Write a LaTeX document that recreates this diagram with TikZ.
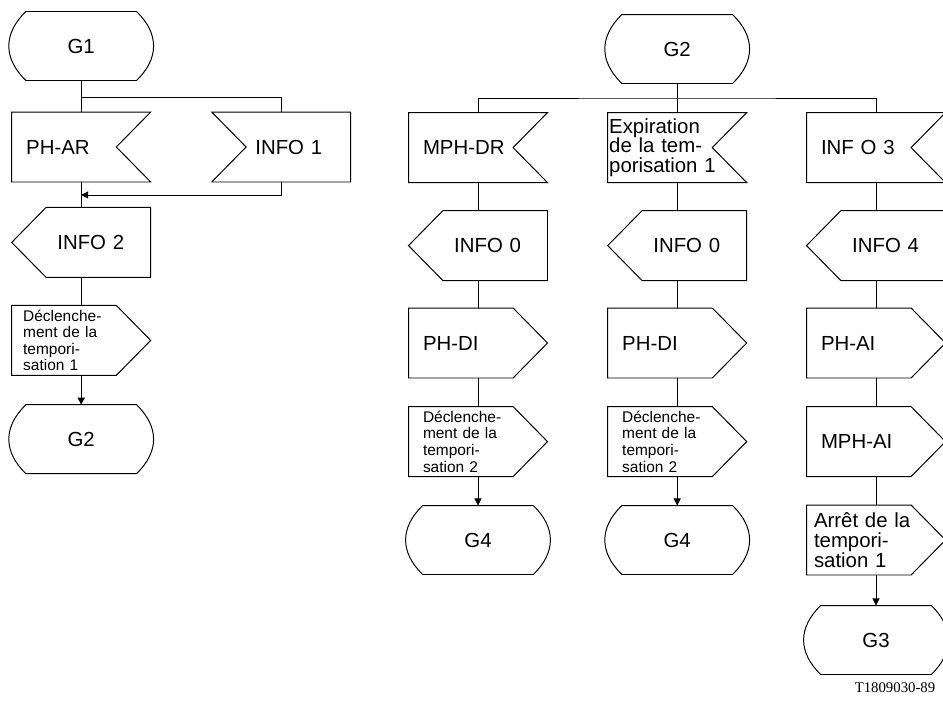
\documentclass[tikz,border=0pt]{standalone}
\usepackage{fontspec}
\setmainfont{Liberation Sans}
\newfontfamily\refserif{Liberation Serif}
\usetikzlibrary{arrows.meta}

\begin{document}
\begin{tikzpicture}[
        line width=0.7pt,
        sdl/.style={
            rectangle,
            inner sep=0pt,
            minimum width=3.45cm,
            minimum height=1.725cm,
            font=\fontsize{14.5}{15}\selectfont
        },
        small/.style={font=\fontsize{11}{11.8}\selectfont},
        tight/.style={font=\fontsize{14.5}{14}\selectfont},
        state/.style={
            sdl,
            minimum width=3.6cm,
            minimum height=1.7cm,
            append after command={\pgfextra{\let\sdlnode\tikzlastnode
                \draw ([xshift=0.43cm]\sdlnode.north west) -- ([xshift=-0.43cm]\sdlnode.north east)
                    .. controls ([xshift=0.14cm,yshift=-0.55cm]\sdlnode.north east)
                    and ([xshift=0.14cm,yshift=0.55cm]\sdlnode.south east)
                    .. ([xshift=-0.43cm]\sdlnode.south east) -- ([xshift=0.43cm]\sdlnode.south west)
                    .. controls ([xshift=-0.14cm,yshift=0.55cm]\sdlnode.south west)
                    and ([xshift=-0.14cm,yshift=-0.55cm]\sdlnode.north west)
                    .. ([xshift=0.43cm]\sdlnode.north west) -- cycle;}}
        },
        inbox/.style={
            sdl,
            text width=2.75cm,
            align=left,
            append after command={\pgfextra{\let\sdlnode\tikzlastnode
                \draw (\sdlnode.north west) -- (\sdlnode.north east)
                    -- ([xshift=-0.86cm]\sdlnode.east) -- (\sdlnode.south east)
                    -- (\sdlnode.south west) -- cycle;}}
        },
        inboxw/.style={
            sdl,
            text width=2.05cm,
            align=right,
            append after command={\pgfextra{\let\sdlnode\tikzlastnode
                \draw (\sdlnode.north west) -- (\sdlnode.north east)
                    -- (\sdlnode.south east) -- (\sdlnode.south west)
                    -- ([xshift=0.86cm]\sdlnode.west) -- cycle;}}
        },
        outw/.style={
            sdl,
            text width=2.15cm,
            align=right,
            append after command={\pgfextra{\let\sdlnode\tikzlastnode
                \draw ([xshift=0.86cm]\sdlnode.north west) -- (\sdlnode.north east)
                    -- (\sdlnode.south east) -- ([xshift=0.86cm]\sdlnode.south west)
                    -- (\sdlnode.west) -- cycle;}}
        },
        oute/.style={
            sdl,
            text width=2.75cm,
            align=left,
            append after command={\pgfextra{\let\sdlnode\tikzlastnode
                \draw (\sdlnode.north west) -- ([xshift=-0.86cm]\sdlnode.north east)
                    -- (\sdlnode.east) -- ([xshift=-0.86cm]\sdlnode.south east)
                    -- (\sdlnode.south west) -- cycle;}}
        },
        arr/.style={-{Triangle[length=5pt,width=5pt]}}
    ]
        \useasboundingbox (0,0) rectangle (23.575,-17.55);

        % G1 branch
        \node[state] (g1) at (2.03,-1.15) {G1};
        \node[inbox] (phar) at (2.03,-3.675) {PH-AR};
        \node[inboxw] (info1) at (7.03,-3.675) {INFO 1};
        \node[outw] (info2) at (2.03,-6.06) {INFO 2};
        \node[oute, small, text width=2.9cm] (decl1) at (2.03,-8.51) {Déclenche-\\ment de la\\tempori-\\sation 1};
        \node[state] (g2a) at (2.03,-10.98) {G2};
        \coordinate (fork1) at (2.03,-2.425);
        \coordinate (back1) at (2.03,-4.875);

        \draw (g1.south) -- (phar.north);
        \draw (fork1) -| (info1.north);
        \draw[arr] (info1.south) |- (back1);
        \draw (phar.south) -- (info2.north);
        \draw (info2.south) -- (decl1.north);
        \draw[arr] (decl1.south) -- (g2a.north);

        % G2 branch
        \node[state] (g2b) at (16.93,-1.225) {G2};
        \coordinate (fork2) at (16.93,-2.45);

        \node[inbox] (mphdr) at (11.95,-3.69) {MPH-DR};
        \node[outw] (info0a) at (11.95,-6.14) {INFO 0};
        \node[oute] (phdia) at (11.95,-8.575) {PH-DI};
        \node[oute, small] (decl2a) at (11.95,-11.04) {Déclenche-\\ment de la\\tempori-\\sation 2};
        \node[state] (g4a) at (11.95,-13.5) {G4};

        \node[inbox, tight, text width=3.4cm] (expir) at (16.93,-3.69) {Expiration\\de la tem-\\porisation 1};
        \node[outw] (info0b) at (16.93,-6.14) {INFO 0};
        \node[oute] (phdib) at (16.93,-8.575) {PH-DI};
        \node[oute, small] (decl2b) at (16.93,-11.04) {Déclenche-\\ment de la\\tempori-\\sation 2};
        \node[state] (g4b) at (16.93,-13.5) {G4};

        \node[inbox] (info3) at (21.9,-3.69) {INF O 3};
        \node[outw] (info4) at (21.9,-6.14) {INFO 4};
        \node[oute] (phai) at (21.9,-8.575) {PH-AI};
        \node[oute] (mphai) at (21.9,-11.04) {MPH-AI};
        \node[oute, tight, text width=3.1cm] (arret) at (21.9,-13.5) {Arrêt de la\\tempori-\\sation 1};
        \node[state] (g3) at (21.9,-16.0) {G3};

        \draw (g2b.south) -- (expir.north);
        \draw (mphdr.north) |- (fork2) -| (info3.north);

        \draw (mphdr.south) -- (info0a.north);
        \draw (info0a.south) -- (phdia.north);
        \draw (phdia.south) -- (decl2a.north);
        \draw[arr] (decl2a.south) -- (g4a.north);

        \draw (expir.south) -- (info0b.north);
        \draw (info0b.south) -- (phdib.north);
        \draw (phdib.south) -- (decl2b.north);
        \draw[arr] (decl2b.south) -- (g4b.north);

        \draw (info3.south) -- (info4.north);
        \draw (info4.south) -- (phai.north);
        \draw (phai.south) -- (mphai.north);
        \draw (mphai.south) -- (arret.north);
        \draw[arr] (arret.south) -- (g3.north);

        \node[font=\refserif\fontsize{10.5}{12}\selectfont] (fig) at (22.375,-17.2) {T1809030-89};
\end{tikzpicture}
\end{document}
